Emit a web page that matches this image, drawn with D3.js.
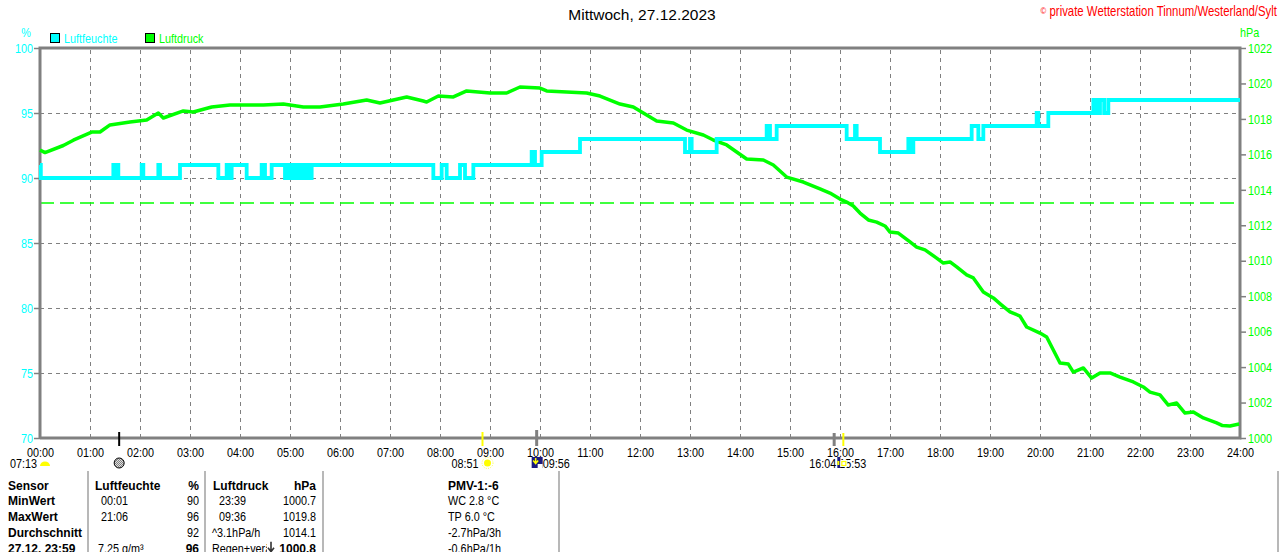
<!DOCTYPE html>
<html>
<head>
<meta charset="utf-8">
<script src="https://cdn.jsdelivr.net/npm/d3@7"></script>
<style>
body {margin:0; background:#fff;}
svg {display:block;}
.nar {font-family:"Liberation Sans",Arial,sans-serif; font-size:13.2px;}
.bld {font-family:"Liberation Sans",Arial,sans-serif; font-size:12px; font-weight:bold;}
</style>
</head>
<body>
<svg id="chart" width="1280" height="552"></svg>
<script>
var hourLabels = ["00:00","01:00","02:00","03:00","04:00","05:00","06:00","07:00","08:00","09:00","10:00","11:00",
    "12:00","13:00","14:00","15:00","16:00","17:00","18:00","19:00","20:00","21:00","22:00","23:00","24:00"];
var humTicks = [70,75,80,85,90,95,100];
var pressTicks = [1000,1002,1004,1006,1008,1010,1012,1014,1016,1018,1020,1022];
var refPressure = 1013.25;

// Luftfeuchte, Wechselpunkte (Stufen)
var humTime = ["00:00","00:01","01:28","01:30","01:32","01:34","02:02","02:04","02:22","02:24","02:48","03:34","03:44",
    "03:46","03:50","04:08","04:26","04:30","04:38","04:54","04:58","05:00","05:04","05:06","05:10","05:12","05:16",
    "05:18","05:22","05:24","05:26","07:52","08:02","08:08","08:24","08:30","08:40","09:50","09:54","10:02","10:48",
    "12:54","13:00","13:02","13:32","14:32","14:36","14:44","16:08","16:18","16:20","16:48","17:22","17:24","17:28",
    "18:38","18:46","18:52","19:56","19:58","20:10","21:04","21:08","21:12","21:17","21:22","24:00"];
var humValue = [91,90,91,90,91,90,91,90,91,90,91,90,91,
    90,91,90,91,90,91,90,91,90,91,90,91,90,91,
    90,91,90,91,90,91,90,91,90,91,92,91,92,93,
    92,93,92,93,94,93,94,93,94,93,92,93,92,93,
    94,93,94,95,94,95,96,95,96,95,96,96];

// Luftdruck
var pressTime = ["00:00","00:06","00:28","00:40","01:02","01:12","01:24","01:48","02:08","02:22","02:28","02:52","03:04",
    "03:26","03:48","04:28","04:52","05:16","05:36","06:04","06:32","06:48","07:20","07:40","07:44","07:58","08:16",
    "08:32","09:00","09:20","09:36","10:00","10:08","10:32","10:56","11:12","11:36","11:52","12:04","12:20","12:40",
    "12:56","13:16","13:28","13:44","14:08","14:28","14:40","14:56","15:16","15:36","15:48","16:00","16:08","16:16",
    "16:24","16:34","16:44","16:54","17:00","17:10","17:24","17:32","17:42","17:56","18:04","18:12","18:20","18:32",
    "18:40","18:52","19:04","19:14","19:24","19:36","19:44","20:00","20:08","20:16","20:24","20:34","20:40","20:52",
    "21:02","21:12","21:24","21:36","21:52","22:04","22:12","22:24","22:34","22:44","22:54","23:04","23:16","23:32",
    "23:39","23:48","23:59"];
var pressValue = [1016.25,1016.1,1016.5,1016.8,1017.26,1017.26,1017.66,1017.83,1017.94,1018.33,1018.05,1018.45,1018.39,
    1018.67,1018.78,1018.78,1018.84,1018.67,1018.67,1018.84,1019.07,1018.9,1019.24,1019.01,1018.95,1019.29,1019.24,
    1019.58,1019.46,1019.46,1019.8,1019.74,1019.58,1019.52,1019.46,1019.29,1018.84,1018.67,1018.33,1017.88,1017.77,
    1017.37,1017.09,1016.81,1016.53,1015.74,1015.68,1015.4,1014.72,1014.44,1014.05,1013.82,1013.48,1013.31,1013.09,
    1012.69,1012.3,1012.18,1011.96,1011.62,1011.56,1011.06,1010.77,1010.61,1010.15,1009.87,1009.93,1009.65,1009.2,
    1009.03,1008.24,1007.9,1007.5,1007.11,1006.88,1006.26,1005.92,1005.7,1004.96,1004.23,1004.17,1003.72,1003.95,
    1003.38,1003.67,1003.67,1003.44,1003.16,1002.88,1002.59,1002.43,1001.86,1001.97,1001.41,1001.47,1001.13,1000.85,
    1000.7,1000.68,1000.79];

// Sonne / Mond
var moonMark = "01:35";
var sunRise = "08:51", moonSet = "09:56", moonRise = "15:53", sunSet = "16:04", dawn = "07:13";

var tableHead = ["Sensor","Luftfeuchte","%","Luftdruck","hPa"];
var rowLabels = ["MinWert","MaxWert","Durchschnitt","27.12. 23:59"];
var humTimes = ["00:01","21:06","","7.25 g/m\u00b3"];
var humVals = ["90","96","92","96"];
var pressTimes = ["23:39","09:36","^3.1hPa/h","Regen+ver\u00e4nd."];
var pressVals = ["1000.7","1019.8","1014.1","1000.8"];
var pmvLines = ["PMV-1:-6","WC 2.8 \u00b0C","TP 6.0 \u00b0C","-2.7hPa/3h","-0.6hPa/1h"];

function mins(s) {var p = s.split(":"); return +p[0]*60 + +p[1];}

var svg = d3.select("#chart");
var pL = 40, pR = 1240, pT = 48, pB = 438;
var narrow = 0.82;
var x = d3.scaleLinear().domain([0,1440]).range([pL,pR]);
var yHum = d3.scaleLinear().domain([70,100]).range([pB,pT]);
var yPress = d3.scaleLinear().domain([1000,1022]).range([pB,pT]);
var gray = "#808080";

// schmale Schrift (wie Arial Narrow)
function ntext(g, tx, ty, str, anchor) {
    return g.append("text").attr("class","nar")
        .attr("transform","translate("+tx+","+ty+") scale("+narrow+",1)")
        .attr("text-anchor",anchor || "start")
        .text(str);
}
function narrowAxis(sel) {
    sel.selectAll("text").attr("class","nar").attr("font-size",null).attr("font-family",null)
        .attr("transform","scale("+narrow+",1)")
        .attr("x",function(){var v = +d3.select(this).attr("x"); return v/narrow;});
}

// Gitter
svg.append("g")
    .attr("transform","translate(0,"+pB+")")
    .call(d3.axisBottom(x).tickValues(d3.range(60,1440,60)).tickSize(-(pB-pT)).tickFormat(""))
    .call(function(g){g.select(".domain").remove();})
    .selectAll("line").attr("stroke",gray).attr("stroke-dasharray","4,4");
svg.append("g")
    .attr("transform","translate("+pL+",0)")
    .call(d3.axisLeft(yHum).tickValues(humTicks.slice(1,-1)).tickSize(-(pR-pL)).tickFormat(""))
    .call(function(g){g.select(".domain").remove();})
    .selectAll("line").attr("stroke",gray).attr("stroke-dasharray","4,4");

// Referenz 1013.25 hPa
svg.append("line")
    .attr("x1",x(0)).attr("x2",x(1440))
    .attr("y1",yPress(refPressure)).attr("y2",yPress(refPressure))
    .attr("stroke","#00ff00").attr("stroke-width",1.5).attr("stroke-dasharray","14,6");

// Achsen
var axL = svg.append("g").attr("transform","translate("+pL+",0)")
    .call(d3.axisLeft(yHum).tickValues(humTicks).tickSize(6).tickPadding(1));
axL.select(".domain").remove();
axL.selectAll("line").attr("stroke",gray).attr("stroke-width",1.5);
axL.call(narrowAxis);
axL.selectAll("text").attr("fill","#00ffff");

var axR = svg.append("g").attr("transform","translate("+pR+",0)")
    .call(d3.axisRight(yPress).tickValues(pressTicks).tickSize(6).tickPadding(2).tickFormat(d3.format("d")));
axR.select(".domain").remove();
axR.selectAll("line").attr("stroke",gray).attr("stroke-width",1.5);
axR.call(narrowAxis);
axR.selectAll("text").attr("fill","#00ff00");

var axB = svg.append("g").attr("transform","translate(0,"+pB+")")
    .call(d3.axisBottom(x).tickValues(d3.range(0,1441,60)).tickSize(0).tickPadding(10)
        .tickFormat(function(d,i){return hourLabels[i];}));
axB.select(".domain").remove();
axB.call(narrowAxis);
axB.selectAll("text").attr("fill","#000");

// Rahmen
svg.append("path")
    .attr("d","M"+pL+","+pB+"V"+pT+"H"+pR+"V"+pB+"H"+pL)
    .attr("fill","none").attr("stroke",gray).attr("stroke-width",3);

// Kurven
var pressLine = d3.line()
    .x(function(d,i){return x(mins(pressTime[i]));})
    .y(function(d){return yPress(d);});
svg.append("path").datum(pressValue)
    .attr("d",pressLine)
    .attr("fill","none").attr("stroke","#00ff00").attr("stroke-width",3.5).attr("stroke-linejoin","round");

var humLine = d3.line()
    .curve(d3.curveStepAfter)
    .x(function(d,i){return x(mins(humTime[i]));})
    .y(function(d){return yHum(d);});
svg.append("path").datum(humValue)
    .attr("d",humLine)
    .attr("fill","none").attr("stroke","#00ffff").attr("stroke-width",3.8);

// Titel, Legende
svg.append("text").attr("x",642).attr("y",20).attr("text-anchor","middle")
    .attr("font-family","Liberation Sans, Arial, sans-serif").attr("font-size",15.5).text("Mittwoch, 27.12.2023");
ntext(svg,1277,16,"","end").attr("fill","#ff0000").style("font-size","13.9px")
    .html('<tspan font-size="9.5" dy="-2">\u00a9</tspan><tspan dy="2"> private Wetterstation Tinnum/Westerland/Sylt</tspan>');
ntext(svg,26,37,"%","middle").attr("fill","#00ffff");
ntext(svg,1240,37,"hPa").attr("fill","#00ff00");

var legend = [["Luftfeuchte","#00ffff",50],["Luftdruck","#00ff00",145]];
legend.forEach(function(l){
    svg.append("rect").attr("x",l[2]+0.5).attr("y",33.5).attr("width",9).attr("height",9)
        .attr("fill",l[1]).attr("stroke","#000");
    ntext(svg,l[2]+14,42.5,l[0]).attr("fill",l[1]);
});

// Sonne/Mond Marken
function mark(t, col, w, y1) {
    svg.append("line").attr("x1",x(mins(t))).attr("x2",x(mins(t)))
        .attr("y1",y1).attr("y2",446).attr("stroke",col).attr("stroke-width",w);
}
mark(moonMark,"#000",2,432);
mark(sunRise,"#ffff00",2,432);
mark(moonSet,gray,3,430);
mark(moonRise,gray,3,433);
mark(sunSet,"#ffff00",2,433);

var iy = 463;
ntext(svg,10,iy+4.5,dawn);
svg.append("path").attr("d","M40,"+(iy+3)+"a5,4.5 0 0 1 10,0z").attr("fill","#ffff00");

var defs = svg.append("defs");
defs.append("pattern").attr("id","hatch").attr("width",2).attr("height",2).attr("patternUnits","userSpaceOnUse")
    .call(function(p){
        p.append("rect").attr("width",2).attr("height",2).attr("fill","#e0e0e0");
        p.append("rect").attr("width",1).attr("height",1).attr("fill","#808080");
        p.append("rect").attr("x",1).attr("y",1).attr("width",1).attr("height",1).attr("fill","#808080");
    });
svg.append("circle").attr("cx",x(mins(moonMark))).attr("cy",iy).attr("r",5)
    .attr("fill","url(#hatch)").attr("stroke","#000").attr("stroke-width",1);

var sx = x(mins(sunRise));
ntext(svg,sx-4,iy+4.5,sunRise,"end");
svg.append("circle").attr("cx",sx+5).attr("cy",iy).attr("r",3.5).attr("fill","#ffff00");
svg.append("circle").attr("cx",sx+5).attr("cy",iy).attr("r",5.5).attr("fill","none")
    .attr("stroke","#ffff00").attr("stroke-width",1).attr("stroke-dasharray","1,1.3").attr("opacity",0.7);

var mx = x(mins(moonSet));
svg.append("rect").attr("x",mx-5).attr("y",iy-6).attr("width",11).attr("height",11).attr("fill","#1a1a80");
svg.append("rect").attr("x",mx+1).attr("y",iy+1).attr("width",5).attr("height",4).attr("fill","#fff");
svg.append("path").attr("d","M"+(mx-1)+","+(iy-5)+"v5m-2.5,-2.5l2.5,3l2.5,-3")
    .attr("stroke","#ffff00").attr("stroke-width",1.5).attr("fill","none");
ntext(svg,mx+6,iy+4.5,moonSet);

var rx = x(mins(moonRise)), ssx = x(mins(sunSet));
ntext(svg,rx+5,iy+4.5,moonRise);
ntext(svg,ssx-7,iy+4.5,sunSet,"end");
svg.append("rect").attr("x",ssx-6).attr("y",iy-6).attr("width",3).attr("height",11).attr("fill","#1a1a80");
svg.append("rect").attr("x",ssx-6).attr("y",iy-2).attr("width",2).attr("height",4).attr("fill","#ffff00");
svg.append("rect").attr("x",ssx-3).attr("y",iy-3).attr("width",7).attr("height",7).attr("fill","#fff");
svg.append("rect").attr("x",ssx-1.5).attr("y",iy-1.5).attr("width",4).attr("height",4)
    .attr("fill","none").attr("stroke","#ffff00").attr("stroke-width",1.2);

// Tabelle
[88,205,323,559,1278].forEach(function(lx){
    svg.append("line").attr("x1",lx).attr("x2",lx).attr("y1",471).attr("y2",552)
        .attr("stroke","#a0a0a0").attr("stroke-width",1.5);
});
var rowY = [489.5,505.3,521.1,536.9,552.7];
var head = svg.append("g").attr("class","bld");
head.append("text").attr("x",8).attr("y",rowY[0]).text(tableHead[0]);
head.append("text").attr("x",95).attr("y",rowY[0]).text(tableHead[1]);
head.append("text").attr("x",199).attr("y",rowY[0]).attr("text-anchor","end").text(tableHead[2]);
head.append("text").attr("x",213).attr("y",rowY[0]).text(tableHead[3]);
head.append("text").attr("x",316).attr("y",rowY[0]).attr("text-anchor","end").text(tableHead[4]);

defs.append("clipPath").attr("id","regclip").append("rect").attr("x",205).attr("y",520).attr("width",62).attr("height",40);

rowLabels.forEach(function(r,i){
    var y = rowY[i+1], last = i == rowLabels.length-1;
    svg.append("text").attr("class","bld").attr("x",8).attr("y",y).text(r);
    ntext(svg,i == 3 ? 98 : 101,y,humTimes[i]);
    if (last) svg.append("text").attr("class","bld").attr("x",199).attr("y",y).attr("text-anchor","end").text(humVals[i]);
    else ntext(svg,199,y,humVals[i],"end");
    var pt = svg.append("g").attr("clip-path",last ? "url(#regclip)" : null);
    ntext(pt,i >= 2 ? 212 : 219,y,pressTimes[i]);
    if (last) svg.append("text").attr("class","bld").attr("x",316).attr("y",y).attr("text-anchor","end").text(pressVals[i]);
    else ntext(svg,316,y,pressVals[i],"end");
});
svg.append("path").attr("d","M271,"+(rowY[4]-11)+"v9m-3,-3l3,4l3,-4")
    .attr("stroke","#333").attr("stroke-width",1.6).attr("fill","none");

pmvLines.forEach(function(t,i){
    if (i == 0) svg.append("text").attr("class","bld").attr("x",448).attr("y",rowY[i]).text(t);
    else ntext(svg,448,rowY[i],t);
});
</script>
</body>
</html>
